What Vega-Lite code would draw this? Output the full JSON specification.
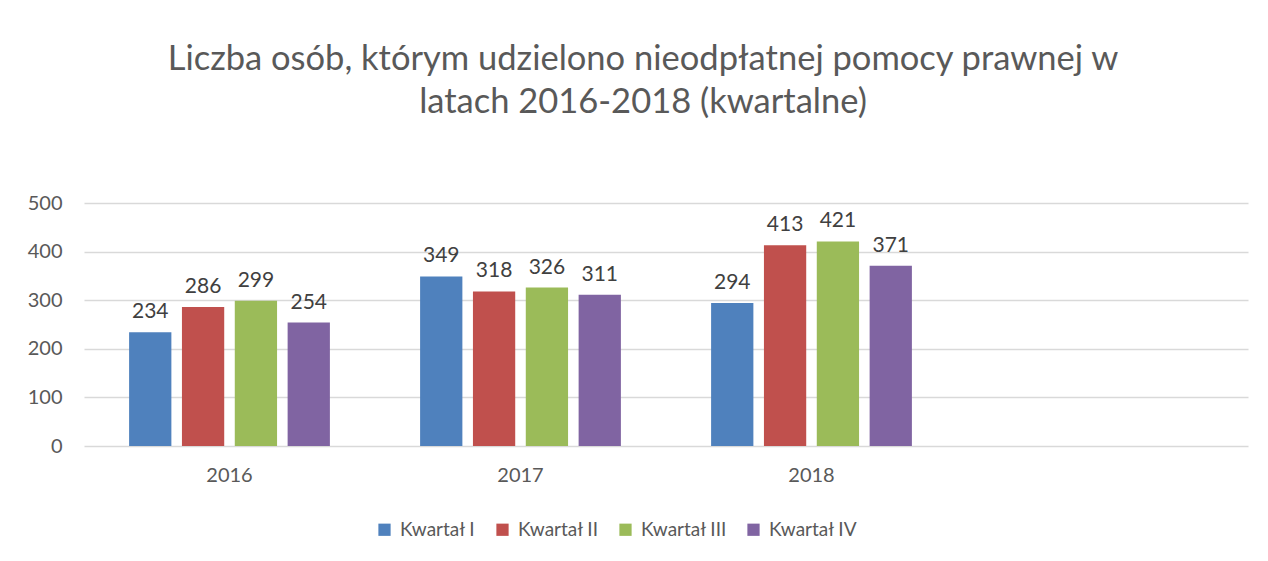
{
  "$schema": "https://vega.github.io/schema/vega-lite/v6.json",
  "width": 1164,
  "height": 243,
  "autosize": "none",
  "padding": {"left": 84, "top": 203, "right": 20, "bottom": 115},
  "background": "white",
  "title": {
    "text": ["Liczba osób, którym udzielono nieodpłatnej pomocy prawnej w", "latach 2016-2018 (kwartalne)"],
    "font": "Lato",
    "fontSize": 34.5,
    "fontWeight": "normal",
    "color": "#595959",
    "anchor": "middle",
    "dx": -23,
    "offset": 73,
    "lineHeight": 43
  },
  "data": {
    "values": [
      {"rok": "2016", "kwartal": "Kwartał I", "liczba": 234},
      {"rok": "2016", "kwartal": "Kwartał II", "liczba": 286},
      {"rok": "2016", "kwartal": "Kwartał III", "liczba": 299},
      {"rok": "2016", "kwartal": "Kwartał IV", "liczba": 254},
      {"rok": "2017", "kwartal": "Kwartał I", "liczba": 349},
      {"rok": "2017", "kwartal": "Kwartał II", "liczba": 318},
      {"rok": "2017", "kwartal": "Kwartał III", "liczba": 326},
      {"rok": "2017", "kwartal": "Kwartał IV", "liczba": 311},
      {"rok": "2018", "kwartal": "Kwartał I", "liczba": 294},
      {"rok": "2018", "kwartal": "Kwartał II", "liczba": 413},
      {"rok": "2018", "kwartal": "Kwartał III", "liczba": 421},
      {"rok": "2018", "kwartal": "Kwartał IV", "liczba": 371}
    ]
  },
  "encoding": {
    "x": {
      "field": "rok",
      "type": "nominal",
      "scale": {"domain": ["2016", "2017", "2018", " "], "paddingInner": 0.31, "paddingOuter": 0.155},
      "axis": {
        "title": null,
        "labelAngle": 0,
        "labelFont": "Lato",
        "labelFontSize": 20,
        "labelColor": "#595959",
        "labelPadding": 19,
        "ticks": false,
        "domain": false
      }
    },
    "xOffset": {
      "field": "kwartal",
      "type": "nominal",
      "scale": {"paddingInner": 0.2, "paddingOuter": 0}
    },
    "y": {
      "field": "liczba",
      "type": "quantitative",
      "scale": {"domain": [0, 500]},
      "axis": {
        "title": null,
        "values": [0, 100, 200, 300, 400, 500],
        "labelFont": "Lato",
        "labelFontSize": 20,
        "labelColor": "#595959",
        "labelPadding": 22,
        "ticks": false,
        "domain": false,
        "gridColor": "#D9D9D9",
        "gridWidth": 1.3
      }
    }
  },
  "layer": [
    {
      "mark": {"type": "bar"},
      "encoding": {
        "color": {
          "field": "kwartal",
          "type": "nominal",
          "scale": {
            "domain": ["Kwartał I", "Kwartał II", "Kwartał III", "Kwartał IV"],
            "range": ["#4F81BD", "#C0504D", "#9BBB59", "#8064A2"]
          },
          "legend": {
            "title": null,
            "orient": "none",
            "direction": "horizontal",
            "legendX": 291,
            "legendY": 317,
            "symbolType": "square",
            "symbolSize": 150,
            "symbolStrokeWidth": 0,
            "symbolOpacity": 1,
            "labelFont": "Lato",
            "labelFontSize": 19,
            "labelColor": "#595959",
            "labelOffset": 6,
            "columnPadding": 17
          }
        }
      }
    },
    {
      "mark": {"type": "text", "baseline": "bottom", "dy": -10, "font": "Lato", "fontSize": 21, "color": "#404040"},
      "encoding": {
        "text": {"field": "liczba", "type": "quantitative"}
      }
    }
  ],
  "config": {
    "view": {"stroke": null}
  }
}
